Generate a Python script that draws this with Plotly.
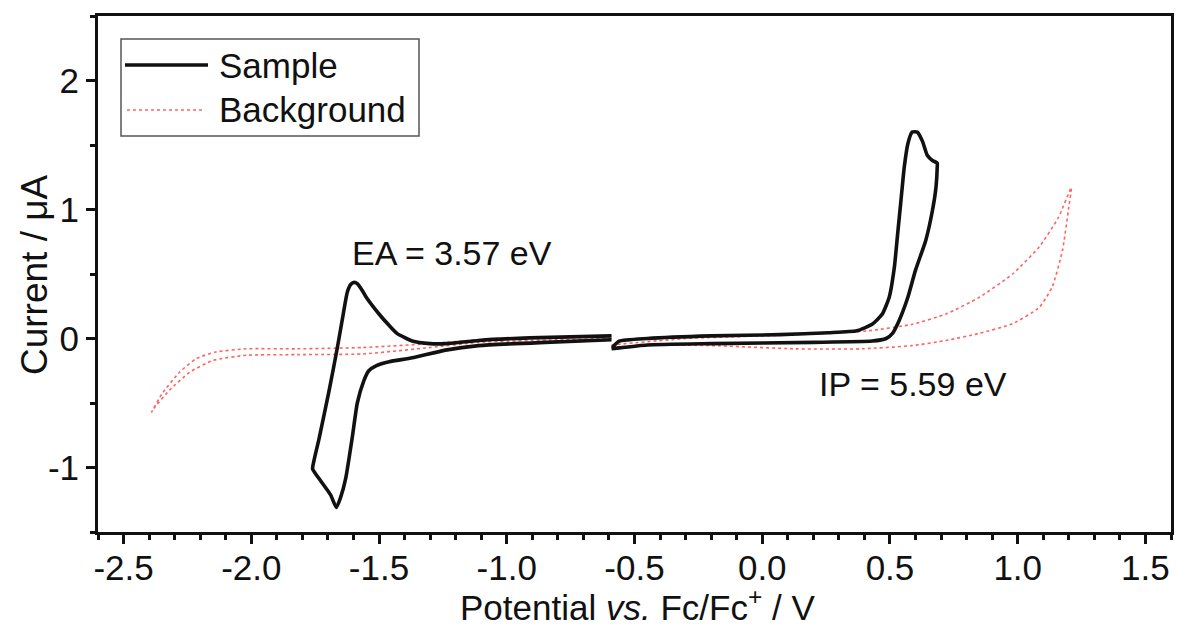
import plotly.graph_objects as go

# ---------------- data ----------------
# Sample, reduction sweep (starts at -0.59 V, turns at -1.76 V, returns)
sample_red_v = [-0.59, -0.85, -1.11, -1.24, -1.37, -1.46, -1.51, -1.54, -1.56, -1.585,
                -1.605, -1.63, -1.65, -1.667, -1.69, -1.726, -1.76,
                -1.755, -1.734, -1.695, -1.663, -1.64, -1.624, -1.61, -1.597, -1.585,
                -1.565, -1.55, -1.50, -1.46, -1.43, -1.37, -1.30, -1.24, -1.11, -0.91, -0.59]
sample_red_i = [-0.01, -0.03, -0.055, -0.09, -0.15, -0.18, -0.21, -0.25, -0.33, -0.50,
                -0.77, -1.08, -1.23, -1.31, -1.21, -1.11, -1.01,
                -0.95, -0.77, -0.40, -0.07, 0.19, 0.36, 0.42, 0.435, 0.425,
                0.37, 0.32, 0.19, 0.10, 0.04, -0.02, -0.04, -0.04, -0.015, 0.005, 0.02]

# Sample, oxidation sweep (starts at -0.59 V, turns at 0.685 V, returns)
sample_ox_v = [-0.587, -0.56, -0.45, -0.20, 0.07, 0.26, 0.37, 0.43, 0.47, 0.497, 0.517,
               0.53, 0.543, 0.556, 0.57, 0.587, 0.607, 0.627, 0.646, 0.666, 0.685,
               0.685, 0.68, 0.666, 0.64, 0.60, 0.57, 0.536, 0.51, 0.485, 0.43, 0.20,
               -0.20, -0.45, -0.57, -0.59]
sample_ox_i = [-0.07, -0.02, 0.0, 0.02, 0.03, 0.045, 0.06, 0.11, 0.19, 0.32, 0.55,
               0.81, 1.07, 1.33, 1.51, 1.60, 1.60, 1.53, 1.42, 1.38, 1.36,
               1.33, 1.17, 0.99, 0.76, 0.53, 0.32, 0.14, 0.04, 0.0, -0.02, -0.03,
               -0.04, -0.05, -0.075, -0.08]

# Background, reduction sweep
bg_red_v = [-0.59, -0.80, -1.11, -1.30, -1.565, -1.82, -2.02, -2.15, -2.24, -2.32, -2.38, -2.39,
            -2.35, -2.28, -2.215, -2.14, -2.02, -1.82, -1.565, -1.30, -1.04, -0.80, -0.59]
bg_red_i = [0.0, -0.01, -0.03, -0.07, -0.12, -0.125, -0.13, -0.17, -0.26, -0.40, -0.54, -0.57,
            -0.43, -0.26, -0.155, -0.105, -0.08, -0.08, -0.07, -0.04, 0.0, 0.01, 0.02]

# Background, oxidation sweep
bg_ox_v = [-0.59, -0.30, 0.0, 0.20, 0.417, 0.587, 0.72, 0.85, 0.98, 1.084, 1.16, 1.21,
           1.20, 1.175, 1.135, 1.084, 0.98, 0.85, 0.72, 0.587, 0.39, 0.13, -0.20, -0.45, -0.59]
bg_ox_i = [-0.05, 0.0, 0.02, 0.035, 0.06, 0.11, 0.19, 0.32, 0.50, 0.71, 0.94, 1.17,
           1.02, 0.68, 0.40, 0.24, 0.115, 0.04, -0.015, -0.055, -0.08, -0.08, -0.055, -0.05, -0.07]

x_ticks = [-2.5, -2.0, -1.5, -1.0, -0.5, 0.0, 0.5, 1.0, 1.5]
x_tick_labels = ["-2.5", "-2.0", "-1.5", "-1.0", "-0.5", "0.0", "0.5", "1.0", "1.5"]
y_ticks = [-1, 0, 1, 2]
y_tick_labels = ["-1", "0", "1", "2"]

series_names = ["Sample", "Background"]
annotations_text = ["EA = 3.57 eV", "IP = 5.59 eV"]
annotation_pos = [(-1.213, 0.66), (0.591, -0.35)]

# ---------------- styles ----------------
FONT = "Liberation Sans, Arial, sans-serif"
BLACK = "#111111"
RED = "rgba(255,70,70,0.85)"

fig = go.Figure()

fig.add_trace(go.Scatter(
    x=bg_red_v + [None] + bg_ox_v, y=bg_red_i + [None] + bg_ox_i,
    mode="lines", name=series_names[1],
    line=dict(color=RED, width=1.6, dash="dot", shape="spline", smoothing=0.5), showlegend=False))
fig.add_trace(go.Scatter(
    x=sample_red_v + [None] + sample_ox_v, y=sample_red_i + [None] + sample_ox_i,
    mode="lines", name=series_names[0],
    line=dict(color=BLACK, width=3.6, shape="spline", smoothing=0.5), showlegend=False))

axis_common = dict(
    showline=True, linewidth=3, linecolor=BLACK, mirror=True,
    ticks="outside", tickwidth=3, tickcolor=BLACK, ticklen=9,
    showgrid=False, zeroline=False, automargin=False,
    tickfont=dict(family=FONT, size=35, color=BLACK),
)

fig.update_xaxes(
    range=[-2.6, 1.6], tickmode="array", tickvals=x_ticks, ticktext=x_tick_labels,
    minor=dict(dtick=0.1, tick0=0, ticks="outside", ticklen=5, tickwidth=3, tickcolor=BLACK),
    ticklabelstandoff=-6,
    **axis_common)
fig.update_yaxes(
    range=[-1.5, 2.5], tickmode="array", tickvals=y_ticks, ticktext=y_tick_labels,
    minor=dict(dtick=0.5, tick0=0, ticks="outside", ticklen=5, tickwidth=3, tickcolor=BLACK),
    ticklabelstandoff=0,
    **axis_common)

L, R, T, B = 98, 7, 16, 94
W, H = 1178, 626
pw, ph = W - L - R, H - T - B

def px(xp):
    return (xp - L) / pw

def py(yp):
    return (H - B - yp) / ph

shapes = [
    dict(type="rect", xref="paper", yref="paper", x0=px(121), x1=px(419), y0=py(136), y1=py(39),
         line=dict(color="#555555", width=1.5), fillcolor="white"),
    dict(type="line", xref="paper", yref="paper", x0=px(125), x1=px(208), y0=py(65), y1=py(65),
         line=dict(color=BLACK, width=3.6)),
    dict(type="line", xref="paper", yref="paper", x0=px(127), x1=px(205), y0=py(110), y1=py(110),
         line=dict(color=RED, width=1.6, dash="dot")),
]
annotations = [
    dict(xref="paper", yref="paper", x=px(217), y=py(66), text=series_names[0], showarrow=False,
         xanchor="left", yanchor="middle", font=dict(family=FONT, size=35, color=BLACK)),
    dict(xref="paper", yref="paper", x=px(217), y=py(109), text=series_names[1], showarrow=False,
         xanchor="left", yanchor="middle", font=dict(family=FONT, size=35, color=BLACK)),
    # axis titles
    dict(xref="paper", yref="paper", x=px(637), y=py(605),
         text="Potential <i>vs.</i> Fc/Fc<sup>+</sup> / V", showarrow=False, borderpad=0,
         xanchor="center", yanchor="middle", font=dict(family=FONT, size=35, color=BLACK)),
    dict(xref="paper", yref="paper", x=px(34), y=py(275),
         text="Current / μA", showarrow=False, textangle=-90, borderpad=0,
         xanchor="center", yanchor="middle", font=dict(family=FONT, size=37, color=BLACK)),
]
for t, (ax_, ay_) in zip(annotations_text, annotation_pos):
    annotations.append(dict(xref="x", yref="y", x=ax_, y=ay_, text=t, showarrow=False,
                            xanchor="center", yanchor="middle",
                            font=dict(family=FONT, size=34, color=BLACK)))

fig.update_layout(
    width=W, height=H, margin=dict(l=L, r=R, t=T, b=B, autoexpand=False),
    paper_bgcolor="white", plot_bgcolor="white",
    shapes=shapes, annotations=annotations, showlegend=False,
)

fig.write_html("out.html", config={"displayModeBar": False},
               post_script="document.body.style.margin='0px';document.body.style.padding='0px';")
